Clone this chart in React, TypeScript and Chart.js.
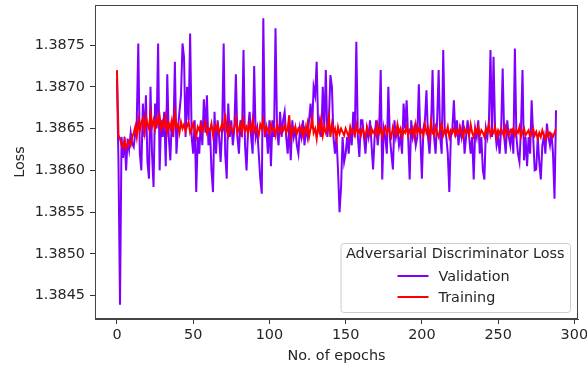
import { useEffect, useRef } from "react";
import { Chart, registerables } from "chart.js";

Chart.register(...registerables);

const validation = [
  1.38710, 1.38610, 1.38439, 1.38640, 1.38615, 1.38640, 1.38600, 1.38638, 1.38625, 1.38645,
  1.38632, 1.38628, 1.38645, 1.38660, 1.38752, 1.38620, 1.38600, 1.38680, 1.38640, 1.38690,
  1.38610, 1.38590, 1.38700, 1.38620, 1.38580, 1.38680, 1.38650, 1.38752, 1.38600, 1.38660,
  1.38640, 1.38670, 1.38605, 1.38715, 1.38640, 1.38612, 1.38660, 1.38640, 1.38730, 1.38620,
  1.38650, 1.38670, 1.38690, 1.38752, 1.38735, 1.38640, 1.38700, 1.38660, 1.38764, 1.38640,
  1.38620, 1.38660, 1.38574, 1.38640, 1.38620, 1.38660, 1.38630, 1.38685, 1.38645, 1.38690,
  1.38630, 1.38650, 1.38600, 1.38574, 1.38670, 1.38620, 1.38660, 1.38640, 1.38610, 1.38650,
  1.38752, 1.38620, 1.38590, 1.38680, 1.38640, 1.38660, 1.38630, 1.38650, 1.38715, 1.38640,
  1.38620, 1.38660, 1.38640, 1.38744, 1.38630, 1.38600, 1.38650, 1.38670, 1.38640, 1.38620,
  1.38725, 1.38640, 1.38650, 1.38620, 1.38590, 1.38572, 1.38782, 1.38640, 1.38650, 1.38620,
  1.38660, 1.38605, 1.38660, 1.38640, 1.38770, 1.38650, 1.38630, 1.38670, 1.38640, 1.38660,
  1.38670, 1.38640, 1.38620, 1.38655, 1.38612, 1.38660, 1.38640, 1.38650, 1.38630, 1.38620,
  1.38650, 1.38640, 1.38660, 1.38630, 1.38650, 1.38640, 1.38660, 1.38680, 1.38650, 1.38700,
  1.38690, 1.38730, 1.38650, 1.38660, 1.38640, 1.38700, 1.38650, 1.38720, 1.38640, 1.38660,
  1.38714, 1.38700, 1.38640, 1.38620, 1.38640, 1.38600, 1.38550, 1.38580, 1.38640, 1.38610,
  1.38620, 1.38640, 1.38620, 1.38650, 1.38630, 1.38670, 1.38640, 1.38754, 1.38640, 1.38616,
  1.38660, 1.38660, 1.38640, 1.38620, 1.38650, 1.38640, 1.38660, 1.38630, 1.38601, 1.38640,
  1.38660, 1.38630, 1.38650, 1.38720, 1.38589, 1.38650, 1.38640, 1.38620, 1.38700, 1.38640,
  1.38620, 1.38601, 1.38660, 1.38640, 1.38650, 1.38630, 1.38640, 1.38620, 1.38680, 1.38650,
  1.38684, 1.38640, 1.38589, 1.38660, 1.38640, 1.38650, 1.38630, 1.38640, 1.38703, 1.38640,
  1.38590, 1.38650, 1.38660, 1.38696, 1.38640, 1.38620, 1.38650, 1.38720, 1.38640, 1.38620,
  1.38660, 1.38720, 1.38640, 1.38620, 1.38744, 1.38650, 1.38640, 1.38620, 1.38574, 1.38640,
  1.38650, 1.38684, 1.38640, 1.38660, 1.38630, 1.38650, 1.38640, 1.38660, 1.38620, 1.38640,
  1.38660, 1.38640, 1.38620, 1.38640, 1.38589, 1.38650, 1.38640, 1.38660, 1.38620, 1.38640,
  1.38600, 1.38589, 1.38650, 1.38640, 1.38660, 1.38744, 1.38640, 1.38736, 1.38650, 1.38630,
  1.38640, 1.38620, 1.38650, 1.38722, 1.38640, 1.38620, 1.38660, 1.38640, 1.38630, 1.38650,
  1.38620, 1.38746, 1.38640, 1.38620, 1.38610, 1.38650, 1.38720, 1.38612, 1.38640, 1.38605,
  1.38640, 1.38620, 1.38684, 1.38640, 1.38600, 1.38601, 1.38640, 1.38610, 1.38589, 1.38630,
  1.38640, 1.38620, 1.38656, 1.38640, 1.38630, 1.38645, 1.38620, 1.38566, 1.38672,
];

const training = [
  1.38720, 1.38642, 1.38638, 1.38630, 1.38628, 1.38636, 1.38626, 1.38632, 1.38635, 1.38630,
  1.38640, 1.38645, 1.38652, 1.38640, 1.38660, 1.38648, 1.38658, 1.38662, 1.38646, 1.38664,
  1.38655, 1.38650, 1.38668, 1.38652, 1.38660, 1.38650, 1.38662, 1.38655, 1.38665, 1.38650,
  1.38658, 1.38652, 1.38664, 1.38646, 1.38656, 1.38650, 1.38660, 1.38648, 1.38668, 1.38652,
  1.38655, 1.38645, 1.38658, 1.38650, 1.38655, 1.38647, 1.38653, 1.38658, 1.38645, 1.38650,
  1.38656, 1.38648, 1.38640, 1.38652, 1.38648, 1.38655, 1.38646, 1.38652, 1.38658, 1.38645,
  1.38650, 1.38648, 1.38656, 1.38642, 1.38652, 1.38648, 1.38655, 1.38645, 1.38650, 1.38656,
  1.38650, 1.38668, 1.38648, 1.38642, 1.38655, 1.38650, 1.38646, 1.38652, 1.38662, 1.38645,
  1.38650, 1.38656, 1.38645, 1.38660, 1.38648, 1.38652, 1.38644, 1.38655, 1.38648, 1.38660,
  1.38646, 1.38652, 1.38648, 1.38642, 1.38655, 1.38650, 1.38660, 1.38645, 1.38652, 1.38648,
  1.38644, 1.38655, 1.38648, 1.38650, 1.38642, 1.38656, 1.38648, 1.38645, 1.38652, 1.38648,
  1.38654, 1.38645, 1.38650, 1.38666, 1.38640, 1.38650, 1.38646, 1.38652, 1.38644, 1.38650,
  1.38646, 1.38652, 1.38642, 1.38650, 1.38645, 1.38656, 1.38640, 1.38650, 1.38662, 1.38645,
  1.38650, 1.38638, 1.38655, 1.38646, 1.38660, 1.38642, 1.38652, 1.38645, 1.38650, 1.38664,
  1.38640, 1.38655, 1.38645, 1.38650, 1.38638, 1.38652, 1.38644, 1.38650, 1.38646, 1.38642,
  1.38650, 1.38645, 1.38640, 1.38652, 1.38645, 1.38648, 1.38642, 1.38655, 1.38645, 1.38648,
  1.38642, 1.38650, 1.38645, 1.38640, 1.38652, 1.38646, 1.38642, 1.38650, 1.38645, 1.38648,
  1.38642, 1.38655, 1.38645, 1.38650, 1.38640, 1.38648, 1.38652, 1.38644, 1.38650, 1.38645,
  1.38640, 1.38652, 1.38646, 1.38642, 1.38655, 1.38645, 1.38650, 1.38640, 1.38648, 1.38645,
  1.38652, 1.38642, 1.38648, 1.38645, 1.38650, 1.38640, 1.38655, 1.38645, 1.38650, 1.38644,
  1.38648, 1.38642, 1.38655, 1.38645, 1.38650, 1.38640, 1.38658, 1.38645, 1.38642, 1.38652,
  1.38645, 1.38640, 1.38650, 1.38656, 1.38642, 1.38648, 1.38644, 1.38652, 1.38640, 1.38648,
  1.38645, 1.38650, 1.38642, 1.38648, 1.38644, 1.38652, 1.38646, 1.38640, 1.38650, 1.38645,
  1.38648, 1.38642, 1.38655, 1.38645, 1.38640, 1.38650, 1.38645, 1.38652, 1.38642, 1.38648,
  1.38645, 1.38640, 1.38650, 1.38646, 1.38655, 1.38642, 1.38648, 1.38645, 1.38652, 1.38640,
  1.38648, 1.38644, 1.38650, 1.38645, 1.38640, 1.38652, 1.38646, 1.38642, 1.38648, 1.38645,
  1.38650, 1.38642, 1.38648, 1.38645, 1.38652, 1.38640, 1.38646, 1.38650, 1.38642, 1.38645,
  1.38648, 1.38640, 1.38645, 1.38650, 1.38642, 1.38646, 1.38638, 1.38645, 1.38640, 1.38648,
  1.38642, 1.38638, 1.38646, 1.38640, 1.38645, 1.38642, 1.38640, 1.38645, 1.38650,
];

const yTicks = [1.3845, 1.385, 1.3855, 1.386, 1.3865, 1.387, 1.3875];
const xTicks = [0, 50, 100, 150, 200, 250, 300];
const seriesLabels = ["Validation", "Training"];
const seriesColors = ["#7f00ff", "#ff0000"];
const legendTitle = "Adversarial Discriminator Loss";
const xTitle = "No. of epochs";
const yTitle = "Loss";

const FONT = "DejaVu Sans";
const FS = 14.4;

export default function App() {
  const ref = useRef<HTMLCanvasElement>(null);

  useEffect(() => {
    document.body.style.margin = "0";
    const canvas = ref.current;
    if (!canvas) return;

    const framePlugin = {
      id: "frame",
      afterDatasetsDraw(chart: any) {
        const { ctx, chartArea: a } = chart;
        ctx.save();
        ctx.strokeStyle = "#444";
        ctx.lineWidth = 1;
        ctx.strokeRect(
          Math.round(a.left) + 0.5,
          Math.round(a.top) + 0.5,
          Math.round(a.right - a.left) - 1,
          Math.round(a.bottom - a.top) - 1
        );
        ctx.restore();
      },
    };

    const legendPlugin = {
      id: "mplLegend",
      afterDraw(chart: any) {
        const { ctx, chartArea: a } = chart;
        ctx.save();
        ctx.font = `${FS}px "${FONT}"`;
        const tw = ctx.measureText(legendTitle).width;
        const w = tw + 11;
        const h = 69;
        const right = a.right - 8;
        const bottom = a.bottom - 7;
        const x0 = right - w;
        const y0 = bottom - h;
        ctx.beginPath();
        (ctx as any).roundRect(x0 + 0.5, y0 + 0.5, w, h, 3);
        ctx.fillStyle = "rgba(255,255,255,0.8)";
        ctx.fill();
        ctx.strokeStyle = "#cccccc";
        ctx.lineWidth = 1;
        ctx.stroke();

        ctx.fillStyle = "#262626";
        ctx.textBaseline = "middle";
        ctx.textAlign = "center";
        ctx.fillText(legendTitle, x0 + w / 2, y0 + 11);

        const lineX1 = x0 + 57;
        const lineX2 = lineX1 + 31;
        seriesLabels.forEach((lab, i) => {
          const yy = y0 + 33 + i * 21;
          ctx.strokeStyle = seriesColors[i];
          ctx.lineWidth = 2;
          ctx.beginPath();
          ctx.moveTo(lineX1, yy);
          ctx.lineTo(lineX2, yy);
          ctx.stroke();
          ctx.textAlign = "left";
          ctx.fillStyle = "#262626";
          ctx.fillText(lab, lineX2 + 10, yy + 1);
        });
        ctx.restore();
      },
    };

    const chart = new Chart(canvas, {
      type: "line",
      data: {
        datasets: [
          {
            label: seriesLabels[0],
            data: validation.map((v, i) => ({ x: i, y: v })),
            borderColor: seriesColors[0],
            backgroundColor: seriesColors[0],
            borderWidth: 2,
            pointRadius: 0,
            tension: 0,
            order: 1,
          },
          {
            label: seriesLabels[1],
            data: training.map((v, i) => ({ x: i, y: v })),
            borderColor: seriesColors[1],
            backgroundColor: seriesColors[1],
            borderWidth: 2,
            pointRadius: 0,
            tension: 0,
            order: 0,
          },
        ],
      },
      options: {
        animation: false,
        responsive: false,
        maintainAspectRatio: false,
        layout: { padding: { top: 5, right: 9, left: 0, bottom: 0 } },
        plugins: {
          legend: { display: false },
          tooltip: { enabled: false },
        },
        font: { family: FONT, size: FS },
        scales: {
          x: {
            type: "linear",
            min: -14.4,
            max: 302.4,
            afterBuildTicks: (s: any) => {
              s.ticks = xTicks.map((v) => ({ value: v }));
            },
            afterFit: (s: any) => {
              s.height = 47;
              s.paddingLeft = 0;
              s.paddingRight = 0;
            },
            grid: {
              display: true,
              drawOnChartArea: false,
              drawTicks: true,
              tickLength: 5,
              tickColor: "#333",
            },
            border: { display: true, color: "#444" },
            ticks: {
              color: "#262626",
              font: { family: FONT, size: FS },
              padding: 3,
              maxRotation: 0,
              callback: (v: any) => String(v),
            },
            title: {
              display: true,
              text: xTitle,
              color: "#262626",
              font: { family: FONT, size: FS },
              padding: { top: 0, bottom: 1 },
            },
          },
          y: {
            type: "linear",
            min: 1.38422,
            max: 1.38798,
            afterBuildTicks: (s: any) => {
              s.ticks = yTicks.map((v) => ({ value: v }));
            },
            afterFit: (s: any) => {
              s.width = 95;
              s.paddingTop = 0;
              s.paddingBottom = 0;
            },
            grid: {
              display: true,
              drawOnChartArea: false,
              drawTicks: true,
              tickLength: 5,
              tickColor: "#333",
            },
            border: { display: true, color: "#444" },
            ticks: {
              color: "#262626",
              font: { family: FONT, size: FS },
              padding: 5,
              callback: (v: any) => Number(v).toFixed(4),
            },
            title: {
              display: true,
              text: yTitle,
              color: "#262626",
              font: { family: FONT, size: FS },
              padding: { top: 12, bottom: 0 },
            },
          },
        },
      },
      plugins: [framePlugin, legendPlugin],
    } as any);

    return () => chart.destroy();
  }, []);

  return (
    <div style={{ width: 587, height: 366 }}>
      <canvas ref={ref} width={587} height={366} style={{ display: "block" }} />
    </div>
  );
}
